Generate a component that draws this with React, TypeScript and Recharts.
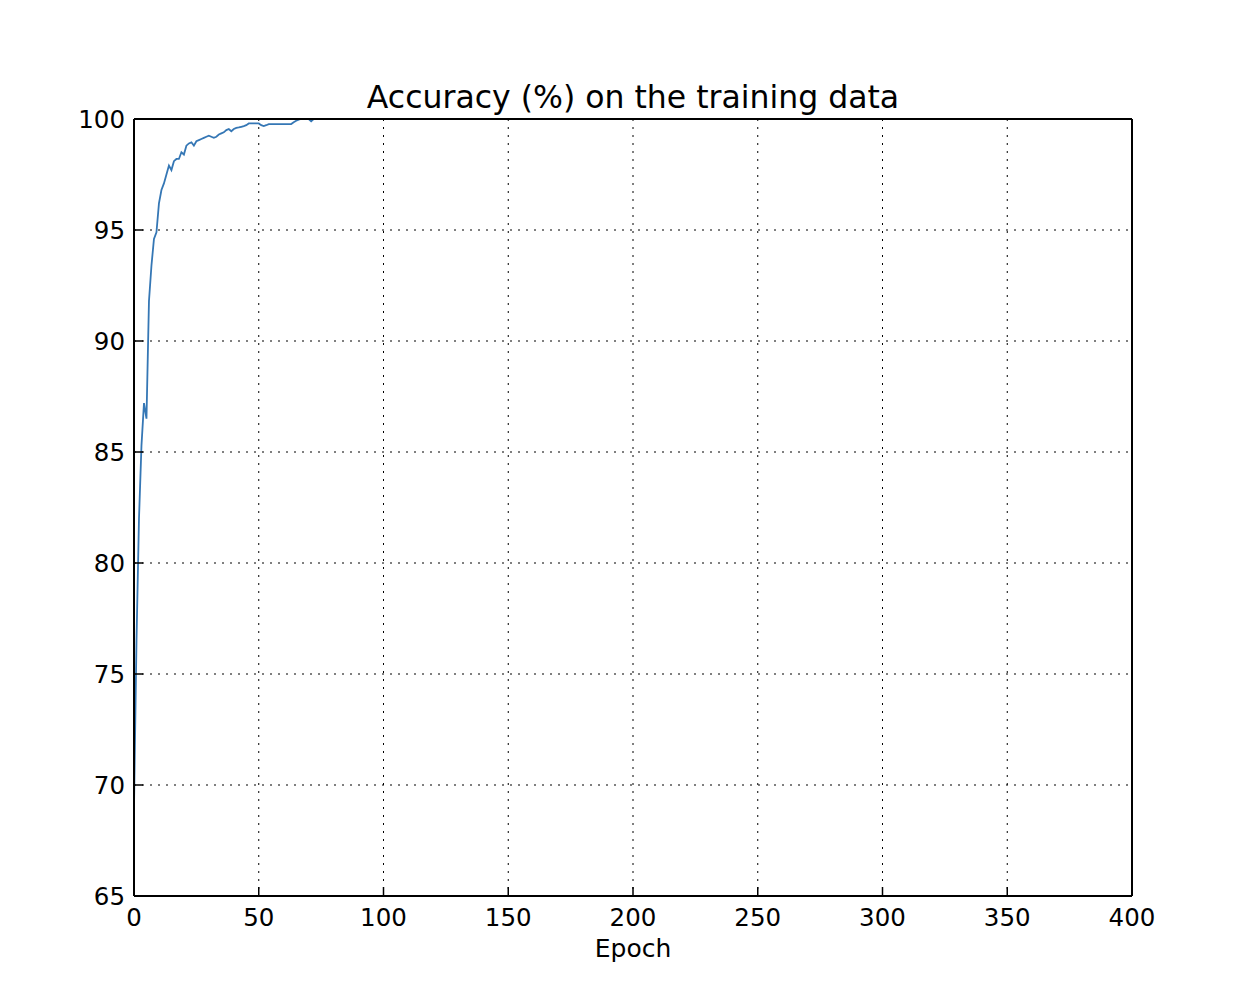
import React from 'react';
import { LineChart, Line, XAxis, YAxis, CartesianGrid, Label } from 'recharts';

const epochs: number[] = [
  0, 1, 2, 3, 4, 5, 6, 7, 8, 9, 10, 11, 12, 13, 14, 15, 16, 17, 18, 19,
  20, 21, 22, 23, 24, 25, 26, 27, 28, 29, 30, 31, 32, 33, 34, 35, 36, 37, 38, 39,
  40, 41, 42, 43, 44, 45, 46, 47, 48, 49, 50, 51, 52, 53, 54, 55, 56, 57, 58, 59,
  60, 61, 62, 63, 64, 65, 66, 67, 68, 69, 70, 71, 72, 73, 74, 75,
];

const accuracy: number[] = [
  69.0, 76.5, 82.0, 85.3, 87.2, 86.5, 91.8, 93.4, 94.6, 94.9, 96.2, 96.8, 97.1, 97.5, 97.9, 97.7, 98.1, 98.2, 98.2, 98.5,
  98.4, 98.8, 98.9, 98.95, 98.8, 99.0, 99.05, 99.1, 99.15, 99.2, 99.25, 99.2, 99.15, 99.2, 99.3, 99.35, 99.4, 99.5, 99.55, 99.45,
  99.55, 99.6, 99.62, 99.65, 99.68, 99.72, 99.8, 99.8, 99.8, 99.8, 99.8, 99.72, 99.68, 99.72, 99.77, 99.77, 99.77, 99.77, 99.77, 99.77,
  99.77, 99.77, 99.77, 99.77, 99.85, 99.92, 99.97, 100, 100, 100, 100, 99.9, 100, 100, 100, 100,
];

const xTicks: number[] = [0, 50, 100, 150, 200, 250, 300, 350, 400];
const yTicks: number[] = [65, 70, 75, 80, 85, 90, 95, 100];

const titleText = 'Accuracy (%) on the training data';
const xLabelText = 'Epoch';

const data = epochs.map((e, i) => ({ epoch: e, acc: accuracy[i] }));

const FONT = '"DejaVu Sans", sans-serif';

export default function App() {
  return (
    <div style={{ position: 'absolute', left: 0, top: 0, width: 1247, height: 1000, background: '#fff' }}>
      <div
        style={{
          position: 'absolute',
          left: 134,
          width: 998,
          top: 81.5,
          textAlign: 'center',
          fontFamily: FONT,
          fontSize: 31.5,
          lineHeight: '31.5px',
          color: '#000',
          whiteSpace: 'nowrap',
        }}
      >
        {titleText}
      </div>
      <LineChart
        width={1247}
        height={1000}
        data={data}
        margin={{ top: 89, right: 0, bottom: 34, left: 0 }}
        style={{ position: 'absolute', left: 0, top: 0 }}
      >
        <CartesianGrid
          stroke="#000"
          strokeDasharray="2 6"
          strokeWidth={1}
          horizontalValues={[70, 75, 80, 85, 90, 95]}
          verticalValues={[50, 100, 150, 200, 250, 300, 350]}
        />
        <XAxis
          dataKey="epoch"
          type="number"
          domain={[0, 400]}
          ticks={xTicks}
          allowDataOverflow
          height={70}
          interval={0}
          axisLine={{ stroke: '#000', strokeWidth: 2 }}
          tickLine={{ stroke: '#000', strokeWidth: 1.5 }}
          tickSize={-9}
          tickMargin={22}
          tick={{ fill: '#000', fontSize: 24.5, fontFamily: FONT }}
        >
          <Label
            value={xLabelText}
            position="insideBottom"
            offset={9}
            style={{ fill: '#000', fontSize: 25, fontFamily: FONT }}
          />
        </XAxis>
        <XAxis
          xAxisId="top"
          orientation="top"
          type="number"
          domain={[0, 400]}
          ticks={xTicks}
          allowDataOverflow
          height={30}
          interval={0}
          axisLine={{ stroke: '#000', strokeWidth: 2 }}
          tickLine={{ stroke: '#000', strokeWidth: 1.5 }}
          tickSize={-9}
          tick={false}
        />
        <YAxis
          type="number"
          domain={[65, 100]}
          ticks={yTicks}
          allowDataOverflow
          width={134}
          interval={0}
          axisLine={{ stroke: '#000', strokeWidth: 2 }}
          tickLine={{ stroke: '#000', strokeWidth: 1.5 }}
          tickSize={-9}
          tickMargin={18}
          tick={{ fill: '#000', fontSize: 24.5, fontFamily: FONT }}
        />
        <YAxis
          yAxisId="right"
          orientation="right"
          type="number"
          domain={[65, 100]}
          ticks={yTicks}
          allowDataOverflow
          width={115}
          interval={0}
          axisLine={{ stroke: '#000', strokeWidth: 2 }}
          tickLine={{ stroke: '#000', strokeWidth: 1.5 }}
          tickSize={-9}
          tick={false}
        />
        <Line
          type="linear"
          dataKey="acc"
          stroke="#3577B5"
          strokeWidth={1.8}
          dot={false}
          activeDot={false}
          isAnimationActive={false}
        />
      </LineChart>
    </div>
  );
}
